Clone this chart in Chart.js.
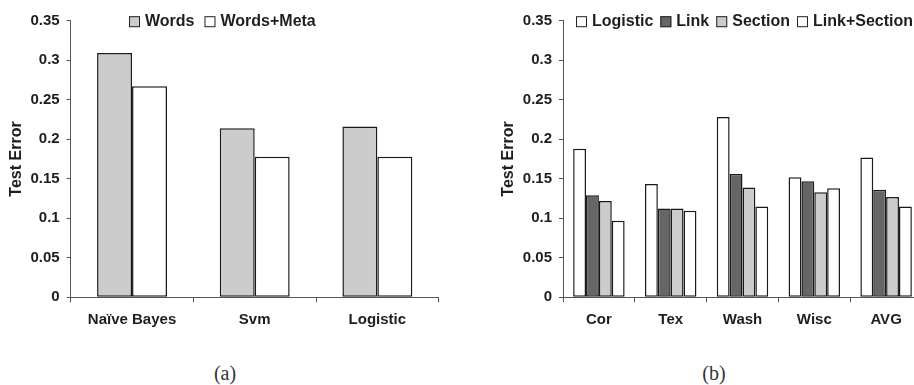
<!DOCTYPE html>
<html>
<head>
<meta charset="utf-8">
<script src="https://cdn.jsdelivr.net/npm/chart.js@4.4.1/dist/chart.umd.min.js"></script>
<style>
  html, body { margin: 0; padding: 0; width: 914px; height: 385px; overflow: hidden; background: #fff; }
  canvas { position: absolute; top: 0; }
  #chart-a { left: 0; }
  #chart-b { left: 457px; }
  .caption { position: absolute; top: 362px; width: 60px; text-align: center;
    font: 20px "Liberation Serif", serif; line-height: 22px; color: #333; }
</style>
</head>
<body>
<canvas id="chart-a" width="457" height="340"></canvas>
<canvas id="chart-b" width="470" height="340"></canvas>
<div class="caption" style="left:195px">(a)</div>
<div class="caption" style="left:684px">(b)</div>
<script>
// (a) classifiers, words vs words+meta
const methods = ['Naïve Bayes', 'Svm', 'Logistic'];
const wordsErr = [0.309, 0.214, 0.216];
const wordsMetaErr = [0.267, 0.178, 0.178];

// (b) per collection
const collections = ['Cor', 'Tex', 'Wash', 'Wisc', 'AVG'];
const logisticErr = [0.188, 0.1435, 0.228, 0.152, 0.177];
const linkErr = [0.129, 0.1125, 0.156, 0.147, 0.136];
const sectionErr = [0.122, 0.1125, 0.139, 0.133, 0.127];
const linkSectionErr = [0.097, 0.1095, 0.115, 0.138, 0.115];

const yMin = 0;
const yMax = 0.35;
const yStep = 0.05;

const FAMILY = '"Liberation Sans", Arial, sans-serif';
const FONT = { family: FAMILY, size: 15, weight: 'bold' };
const BIG = { family: FAMILY, size: 16, weight: 'bold' };
const TEXT = '#1e1e1e';
const AXIS = '#555';

// legend drawn inside the top of the plot, left-ish like the original
const inlineLegend = {
  id: 'inlineLegend',
  afterDraw(chart, args, opts) {
    const ctx = chart.ctx;
    const box = 11;
    let x = opts.x;
    const y = chart.chartArea.top;
    ctx.save();
    ctx.font = `bold ${BIG.size}px ${FAMILY}`;
    ctx.textBaseline = 'middle';
    chart.data.datasets.forEach(ds => {
      ctx.fillStyle = ds.backgroundColor;
      ctx.fillRect(x, y - box / 2 + 1, box, box);
      ctx.strokeStyle = '#222';
      ctx.lineWidth = 1;
      ctx.strokeRect(x + 0.5, y - box / 2 + 1.5, box - 1, box - 1);
      x += box + 5;
      ctx.fillStyle = TEXT;
      ctx.fillText(ds.label, x, y + 1);
      x += ctx.measureText(ds.label).width + opts.gap;
    });
    ctx.restore();
  }
};

function makeBar(ds) {
  return Object.assign({ borderColor: '#1a1a1a', borderWidth: 1.5, borderSkipped: false }, ds);
}

function baseOptions(axisWidth, titlePad, rightPad, catPct, legendX, legendGap) {
  return {
    responsive: false,
    animation: false,
    devicePixelRatio: 1,
    layout: { padding: { top: 20.7, right: rightPad, left: 0, bottom: 0 } },
    datasets: { bar: { categoryPercentage: catPct, barPercentage: 1 } },
    plugins: {
      legend: { display: false },
      tooltip: { enabled: false },
      inlineLegend: { x: legendX, gap: legendGap }
    },
    scales: {
      x: {
        afterFit: s => { s.height = 42.7; },
        grid: { display: true, offset: true, drawOnChartArea: false, drawTicks: true, tickLength: 5, color: AXIS },
        border: { display: true, color: AXIS, width: 1 },
        ticks: { color: TEXT, font: FONT, padding: 9, maxRotation: 0 }
      },
      y: {
        min: yMin,
        max: yMax,
        afterFit: s => { s.width = axisWidth; },
        grid: { display: true, drawOnChartArea: false, drawTicks: true, tickLength: 4, color: AXIS },
        border: { display: true, color: AXIS, width: 1 },
        ticks: {
          stepSize: yStep, color: TEXT, font: FONT, padding: 7,
          callback: v => String(Number(v.toFixed(2)))
        },
        title: { display: true, text: 'Test Error', color: TEXT, font: BIG, padding: { top: titlePad, bottom: 0 } }
      }
    }
  };
}

new Chart(document.getElementById('chart-a'), {
  type: 'bar',
  data: {
    labels: methods,
    datasets: [
      makeBar({ label: 'Words', data: wordsErr, backgroundColor: '#cccccc' }),
      makeBar({ label: 'Words+Meta', data: wordsMetaErr, backgroundColor: '#ffffff' })
    ]
  },
  options: baseOptions(70.7, 7.4, 18.3, 0.57, 129, 10),
  plugins: [inlineLegend]
});

new Chart(document.getElementById('chart-b'), {
  type: 'bar',
  data: {
    labels: collections,
    datasets: [
      makeBar({ label: 'Logistic', data: logisticErr, backgroundColor: '#ffffff' }),
      makeBar({ label: 'Link', data: linkErr, backgroundColor: '#666666' }),
      makeBar({ label: 'Section', data: sectionErr, backgroundColor: '#cccccc' }),
      makeBar({ label: 'Link+Section', data: linkSectionErr, backgroundColor: '#ffffff' })
    ]
  },
  options: baseOptions(106, 42.1, 5, 0.717, 119, 7),
  plugins: [inlineLegend]
});
</script>
</body>
</html>
